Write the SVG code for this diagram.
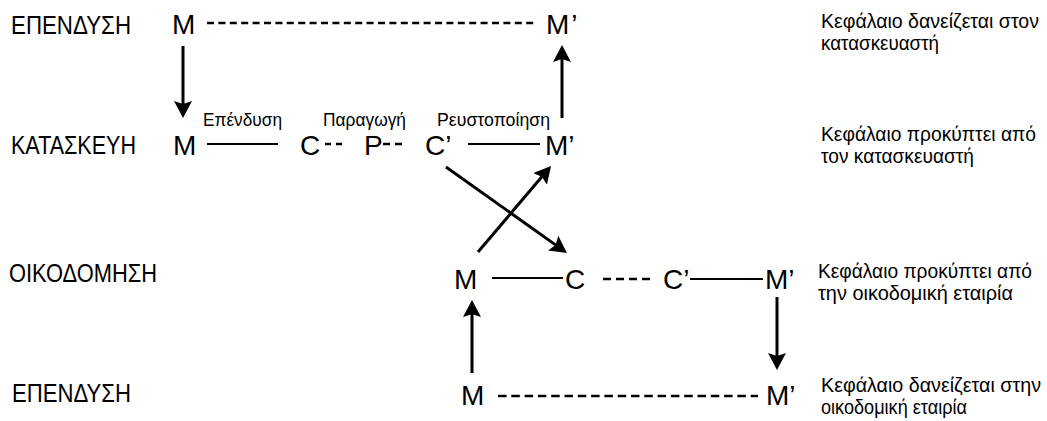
<svg xmlns="http://www.w3.org/2000/svg" width="1047" height="421" viewBox="0 0 1047 421">
<style>
text { font-family: "Liberation Sans", Arial, sans-serif; fill: #000; }
.row { font-size: 26px; }
.node { font-size: 28px; }
.lab { font-size: 18.5px; }
.note { font-size: 19.5px; }
.solid { stroke: #000; stroke-width: 2; fill: none; }
.dash { stroke: #000; stroke-width: 2.6; fill: none; }
.arr { stroke: #000; stroke-width: 3; fill: none; marker-end: url(#ah); }
</style>
<defs>
<marker id="ah" viewBox="0 0 17 18" refX="12" refY="9" markerWidth="17" markerHeight="18" markerUnits="userSpaceOnUse" orient="auto">
<path d="M0,0 L17,9 L0,18 L3,9 z" fill="#000"/>
</marker>
</defs>
<rect width="1047" height="421" fill="#fff"/>
<g id="row-labels">
<text class="row" x="11" y="34" textLength="120" lengthAdjust="spacingAndGlyphs">ΕΠΕΝΔΥΣΗ</text>
<text class="row" x="11" y="154" textLength="125" lengthAdjust="spacingAndGlyphs">ΚΑΤΑΣΚΕΥΗ</text>
<text class="row" x="9" y="282" textLength="148" lengthAdjust="spacingAndGlyphs">ΟΙΚΟΔΟΜΗΣΗ</text>
<text class="row" x="12" y="402" textLength="119" lengthAdjust="spacingAndGlyphs">ΕΠΕΝΔΥΣΗ</text>
</g>
<g id="n-inv1-M"><text class="node" x="172" y="34">M</text></g>
<g id="n-inv1-M2"><text class="node" x="546" y="34">M<tspan dx="2">’</tspan></text></g>
<g id="n-k-M"><text class="node" x="173" y="155">M</text></g>
<g id="n-k-C"><text class="node" x="300" y="155">C</text></g>
<g id="n-k-P"><text class="node" x="364" y="155">P</text></g>
<g id="n-k-C2"><text class="node" x="425" y="155">C’</text></g>
<g id="n-k-M2"><text class="node" x="545" y="155">M’</text></g>
<g id="n-o-M"><text class="node" x="454" y="289">M</text></g>
<g id="n-o-C"><text class="node" x="565" y="289">C</text></g>
<g id="n-o-C2"><text class="node" x="663" y="289">C’</text></g>
<g id="n-o-M2"><text class="node" x="765" y="289">M’</text></g>
<g id="n-inv2-M"><text class="node" x="461" y="405">M</text></g>
<g id="n-inv2-M2"><text class="node" x="766" y="405">M’</text></g>
<g id="stage-labels">
<text class="lab" x="203" y="126" textLength="79" lengthAdjust="spacingAndGlyphs">Επένδυση</text>
<text class="lab" x="323" y="126" textLength="83" lengthAdjust="spacingAndGlyphs">Παραγωγή</text>
<text class="lab" x="437" y="126" textLength="113" lengthAdjust="spacingAndGlyphs">Ρευστοποίηση</text>
</g>
<g id="notes">
<text class="note" x="821" y="28" textLength="218" lengthAdjust="spacingAndGlyphs">Κεφάλαιο δανείζεται στον</text>
<text class="note" x="821" y="50" textLength="118" lengthAdjust="spacingAndGlyphs">κατασκευαστή</text>
<text class="note" x="821" y="141" textLength="215" lengthAdjust="spacingAndGlyphs">Κεφάλαιο προκύπτει από</text>
<text class="note" x="821" y="163" textLength="153" lengthAdjust="spacingAndGlyphs">τον κατασκευαστή</text>
<text class="note" x="818" y="278" textLength="214" lengthAdjust="spacingAndGlyphs">Κεφάλαιο προκύπτει από</text>
<text class="note" x="818" y="300" textLength="195" lengthAdjust="spacingAndGlyphs">την οικοδομική εταιρία</text>
<text class="note" x="821" y="392" textLength="220" lengthAdjust="spacingAndGlyphs">Κεφάλαιο δανείζεται στην</text>
<text class="note" x="821" y="414" textLength="146" lengthAdjust="spacingAndGlyphs">οικοδομική εταιρία</text>
</g>
<g id="connectors">
<line class="dash" x1="207" y1="23" x2="537" y2="23" stroke-dasharray="7 4.4"/>
<line class="solid" x1="207" y1="144" x2="278" y2="144"/>
<line class="dash" x1="325" y1="144" x2="342" y2="144" stroke-dasharray="6 5"/>
<line class="dash" x1="383" y1="144" x2="402" y2="144" stroke-dasharray="7 5"/>
<line class="solid" x1="468" y1="144" x2="540" y2="144"/>
<line class="solid" x1="492" y1="278" x2="563" y2="278"/>
<line class="dash" x1="603" y1="279" x2="650" y2="279" stroke-dasharray="8 5"/>
<line class="solid" x1="690" y1="279" x2="763" y2="279"/>
<line class="dash" x1="498" y1="396" x2="758" y2="396" stroke-dasharray="8.5 4.8"/>
<line class="arr" x1="183" y1="46" x2="183" y2="113"/>
<line class="arr" x1="562" y1="118" x2="562" y2="50"/>
<line class="arr" x1="446" y1="167" x2="562.9" y2="250.1"/>
<line class="arr" x1="478" y1="252" x2="547.8" y2="169.8"/>
<line class="arr" x1="777" y1="297" x2="777" y2="365"/>
<line class="arr" x1="472" y1="373" x2="472" y2="305"/>
</g>
</svg>
